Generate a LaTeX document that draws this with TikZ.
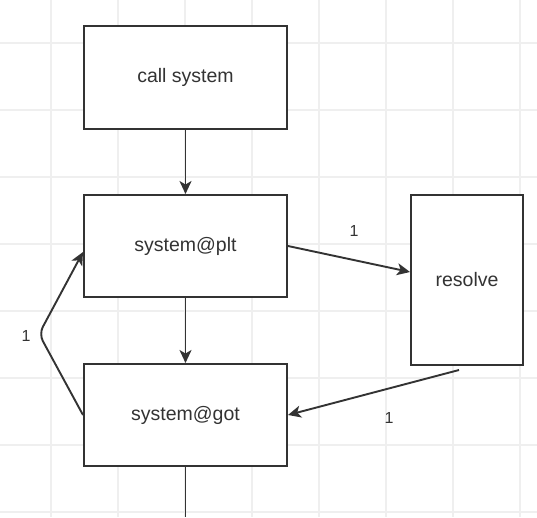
\documentclass[tikz,border=0pt]{standalone}
\usepackage{fontspec}
\setmainfont{Liberation Sans}
\usetikzlibrary{arrows.meta,calc}
\definecolor{ink}{HTML}{333333}
\definecolor{gridc}{HTML}{EFEFEF}
\tikzset{
  block/.style={draw=ink,fill=white,line width=2pt,inner sep=0pt,
    text=ink,font=\fontsize{19.5}{22}\selectfont},
  link/.style={draw=ink,line width=1.9pt,-{Stealth[length=13pt,width=12pt,inset=3.5pt]}},
  plain/.style={draw=ink,line width=1.9pt},
  lbl/.style={text=ink,font=\fontsize{16}{18}\selectfont,inner sep=0pt}
}
\begin{document}
\begin{tikzpicture}[x=1pt,y=-1pt]
\useasboundingbox (0,0) rectangle (537,517);
\fill[white] (0,0) rectangle (537,517);
% grid
\foreach \gx in {51,118,185,252,319,386,453,520} {\draw[gridc,line width=1.2pt] (\gx,0) -- (\gx,517);}
\foreach \gy in {43,110,177,244,311,378,445,512} {\draw[gridc,line width=1.2pt] (0,\gy) -- (537,\gy);}
% boxes
\node[block,minimum width=203pt,minimum height=103pt] (call) at (185.5,77.5) {call system};
\node[block,minimum width=203pt,minimum height=102pt] (plt) at (185.5,246) {system@plt};
\node[block,minimum width=203pt,minimum height=102pt] (got) at (185.5,415) {system@got};
\node[block,minimum width=112pt,minimum height=170pt] (res) at (467,280) {resolve};
% coordinates
\coordinate (bend) at (39,334);
\coordinate (bottom) at (185.5,517);
% connectors
\draw[link] (call.south) -- (plt.north);
\draw[link] (plt.south) -- (got.north);
\draw[link] (plt.east) -- ([yshift=8pt]res.west);
\draw[link] ([xshift=-8pt,yshift=-4pt]res.south) -- (got.east);
\draw[link,rounded corners=8pt] (got.west) -- (bend) -- ([yshift=-6pt]plt.west);
\draw[plain] (got.south) -- (bottom);
% labels
\node[lbl] (l1) at (354,231) {1};
\node[lbl] (l2) at (26,336) {1};
\node[lbl] (l3) at (389,418) {1};
\end{tikzpicture}
\end{document}
